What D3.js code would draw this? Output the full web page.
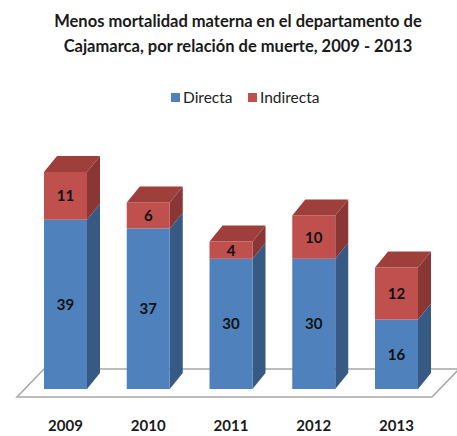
<!DOCTYPE html>
<html>
<head>
<meta charset="utf-8">
<script src="https://cdn.jsdelivr.net/npm/d3@7"></script>
<style>
  body { margin: 0; background: #fff; }
  text { font-family: Lato, "Open Sans", sans-serif; }
</style>
</head>
<body>
<svg id="drawing_region"></svg>
<script>
const years = ["2009", "2010", "2011", "2012", "2013"];
const directa = [39, 37, 30, 30, 16];
const indirecta = [11, 6, 4, 10, 12];
const seriesNames = ["Directa", "Indirecta"];
const titleLines = ["Menos mortalidad materna en el departamento de",
                    "Cajamarca, por relación de muerte, 2009 - 2013"];

const width = 457, height = 436;
const barW = 43, depthX = 13, depthY = 16;
const colors = {
    Directa:   {front: "#4f81bd", side: "#375a85", top: "#4572a8"},
    Indirecta: {front: "#c0504d", side: "#8a3634", top: "#9e3f3c"}
};

const svg = d3.select("#drawing_region")
    .attr("width", width)
    .attr("height", height);

const x = d3.scalePoint().domain(years).range([65.5, 396.5]);
const y = d3.scaleLinear().domain([0, 50]).range([389, 172]);

// title
svg.selectAll(".title")
    .data(titleLines)
    .enter()
    .append("text")
    .attr("x", 238)
    .attr("y", (d, i) => 27 + i * 25)
    .attr("text-anchor", "middle")
    .attr("font-size", "16.5px")
    .attr("font-weight", "bold")
    .attr("fill", "#1a1a1a")
    .text(d => d);

// legend
const legendX = [171, 248];
const legend = svg.selectAll(".legend")
    .data(seriesNames)
    .enter()
    .append("g")
    .attr("transform", (d, i) => `translate(${legendX[i]}, 93)`);
legend.append("rect")
    .attr("width", 9).attr("height", 9)
    .attr("fill", d => colors[d].front);
legend.append("text")
    .attr("x", 12).attr("y", 10)
    .attr("font-size", "15.5px")
    .attr("fill", "#222")
    .text(d => d);

// floor
const floorL = 17, floorR = 432, floorY = 397, floorDX = 27, floorDY = 28;
svg.append("path")
    .attr("d", `M${floorL},${floorY} L${floorR},${floorY} L${floorR + floorDX},${floorY - floorDY} L${floorL + floorDX},${floorY - floorDY} Z`)
    .attr("fill", "#fff")
    .attr("stroke", "#a6a6a6")
    .attr("stroke-width", 1.5);

// stacked data
const data = years.map((yr, i) => ({year: yr, Directa: directa[i], Indirecta: indirecta[i]}));
const stacked = d3.stack().keys(seriesNames)(data);

const segments = [];
stacked.forEach(s => s.forEach(d => segments.push({key: s.key, y0: d[0], y1: d[1], year: d.data.year, top: s.key === "Indirecta"})));

const bars = svg.selectAll(".seg")
    .data(segments)
    .enter()
    .append("g");

// side face
bars.append("path")
    .attr("d", d => {
        const xr = x(d.year) + barW / 2;
        return `M${xr},${y(d.y0)} L${xr + depthX},${y(d.y0) - depthY} L${xr + depthX},${y(d.y1) - depthY} L${xr},${y(d.y1)} Z`;
    })
    .attr("fill", d => colors[d.key].side);

// top face
bars.filter(d => d.top).append("path")
    .attr("d", d => {
        const xl = x(d.year) - barW / 2, xr = x(d.year) + barW / 2, yt = y(d.y1);
        return `M${xl},${yt} L${xl + depthX},${yt - depthY} L${xr + depthX},${yt - depthY} L${xr},${yt} Z`;
    })
    .attr("fill", d => colors[d.key].top);

// front face
bars.append("rect")
    .attr("x", d => x(d.year) - barW / 2)
    .attr("y", d => y(d.y1))
    .attr("width", barW)
    .attr("height", d => y(d.y0) - y(d.y1))
    .attr("fill", d => colors[d.key].front);

// value labels
bars.append("text")
    .attr("x", d => x(d.year))
    .attr("y", d => (y(d.y0) + y(d.y1)) / 2 + 5.5)
    .attr("text-anchor", "middle")
    .attr("font-size", "15px")
    .attr("font-weight", "bold")
    .attr("fill", "#111")
    .text(d => d.y1 - d.y0);

// year labels
svg.selectAll(".year")
    .data(years)
    .enter()
    .append("text")
    .attr("x", d => x(d))
    .attr("y", 431)
    .attr("text-anchor", "middle")
    .attr("font-size", "15px")
    .attr("font-weight", "bold")
    .attr("fill", "#1a1a1a")
    .text(d => d);
</script>
</body>
</html>
